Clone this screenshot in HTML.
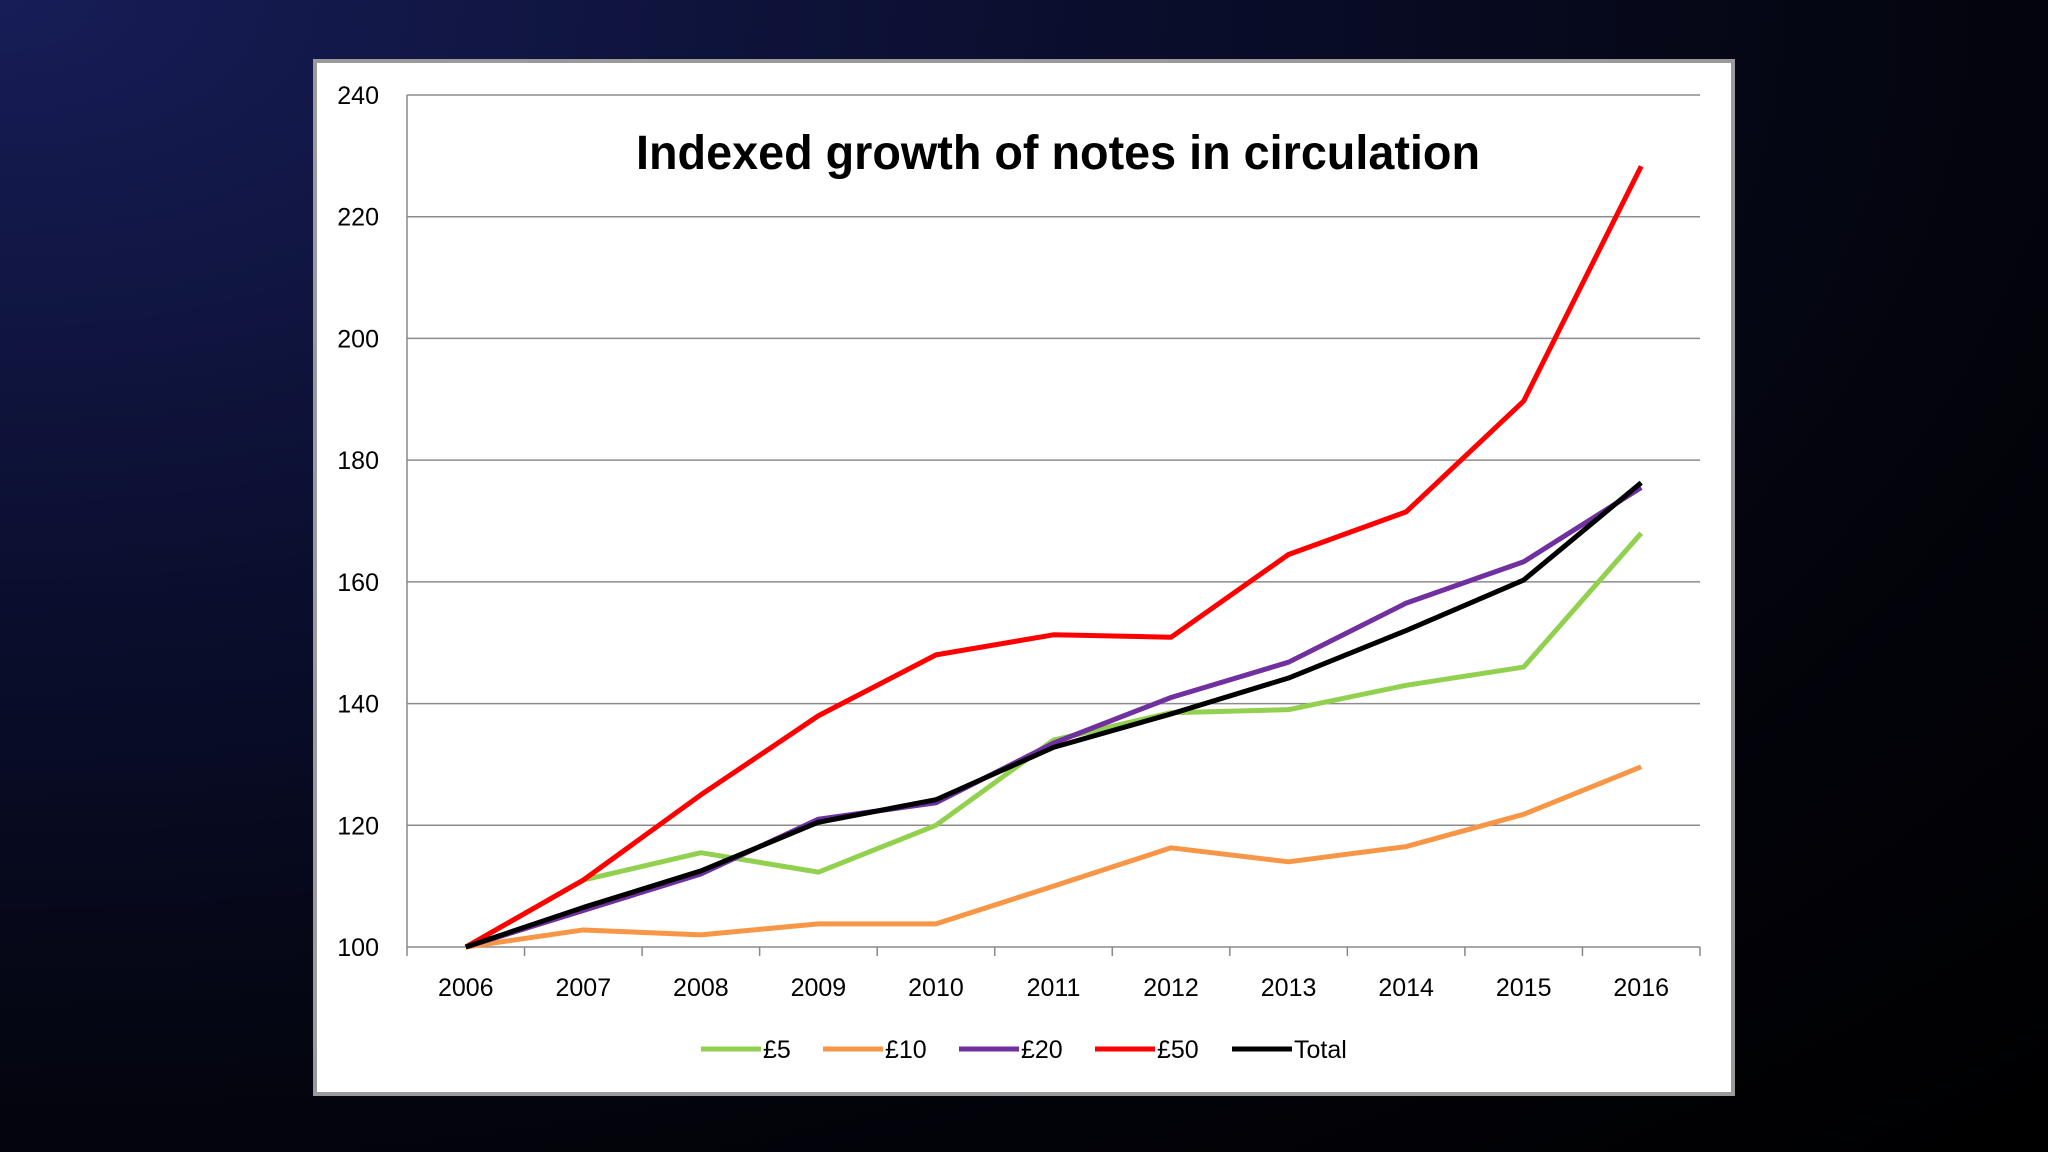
<!DOCTYPE html>
<html><head><meta charset="utf-8"><style>
html,body{margin:0;padding:0;width:2048px;height:1152px;overflow:hidden;background:radial-gradient(ellipse at 0% 0%,#171d57 0%,#0b0f30 35%,#03040c 70%,#000 100%);}
svg{position:absolute;left:0;top:0;}
text{font-family:"Liberation Sans",sans-serif;}
</style></head><body>
<svg width="2048" height="1152">
<rect x="315" y="61" width="1418" height="1033" fill="#fff" stroke="#9a9a9a" stroke-width="4"/>
<text x="1058" y="169" text-anchor="middle" font-size="48" font-weight="bold" textLength="844" lengthAdjust="spacingAndGlyphs" fill="#000">Indexed growth of notes in circulation</text>
<g id="grid"></g><g id="series"></g><g id="legend"></g>
</svg>
<script>
const years=["2006","2007","2008","2009","2010","2011","2012","2013","2014","2015","2016"];
const yTicks=[100,120,140,160,180,200,220,240];
const s5=[100,111,115.5,112.3,120,134,138.5,139,143,146,168];
const s10=[100,102.8,102,103.8,103.8,110,116.3,114,116.5,121.8,129.6];
const s20=[100,106,112,121,123.7,133.5,141,146.8,156.5,163.3,175.5];
const s50=[100,111,125,138,148,151.3,150.9,164.5,171.5,189.7,228.3];
const sTotal=[100,106.5,112.5,120.5,124.2,132.8,138.3,144.2,152,160.3,176.3];
const names=["£5","£10","£20","£50","Total"];
const NS="http://www.w3.org/2000/svg";
const L=407,R=1700,T=95,B=947;
const cw=(R-L)/years.length;
const x=i=>L+cw*(i+0.5);
const y=v=>B-(v-100)/(240-100)*(B-T);
function mk(tag,at,parent){const e=document.createElementNS(NS,tag);for(const k in at)e.setAttribute(k,at[k]);parent.appendChild(e);return e;}
const g=document.getElementById('grid');
yTicks.forEach(t=>{
 const ln=mk('line',{x1:L,x2:R,y1:y(t),y2:y(t),stroke:'#8c8c8c','stroke-width':1.5},g);
 
 
 const tx=mk('text',{x:379,y:y(t)+9,'text-anchor':'end','font-size':25,fill:'#000'},g);
 tx.textContent=t;
 
 
});
const ax=mk('line',{x1:L,x2:L,y1:T,y2:B,stroke:'#888','stroke-width':1.5},g);


for(let i=0;i<=years.length;i++){
 const tk=mk('line',{x1:L+cw*i,x2:L+cw*i,y1:B,y2:B+9,stroke:'#888','stroke-width':1.5},g);
 
 
}
years.forEach((yr,i)=>{
 const tx=mk('text',{x:x(i),y:996,'text-anchor':'middle','font-size':25,fill:'#000'},g);
 tx.textContent=yr;
 
 
});
const data=[s5,s10,s20,s50,sTotal];
const cols=['#92d050','#f79646','#7030a0','#ff0000','#000000'];
const sg=document.getElementById('series');
data.forEach((d,k)=>{
 const p=mk('polyline',{points:d.map((v,i)=>x(i)+','+y(v)).join(' '),fill:'none',stroke:cols[k],'stroke-width':5,'stroke-linejoin':'round'},sg);
 
 
});
const lg=document.getElementById('legend');
const lx=[701,823,959,1095,1232];
names.forEach((n,k)=>{
 const ln=mk('line',{x1:lx[k],x2:lx[k]+60,y1:1049,y2:1049,stroke:cols[k],'stroke-width':5},lg);
 
 
 const tx=mk('text',{x:lx[k]+62,y:1058,'font-size':25,fill:'#000'},lg);
 tx.textContent=n;
 
 
});
</script>
</body></html>
